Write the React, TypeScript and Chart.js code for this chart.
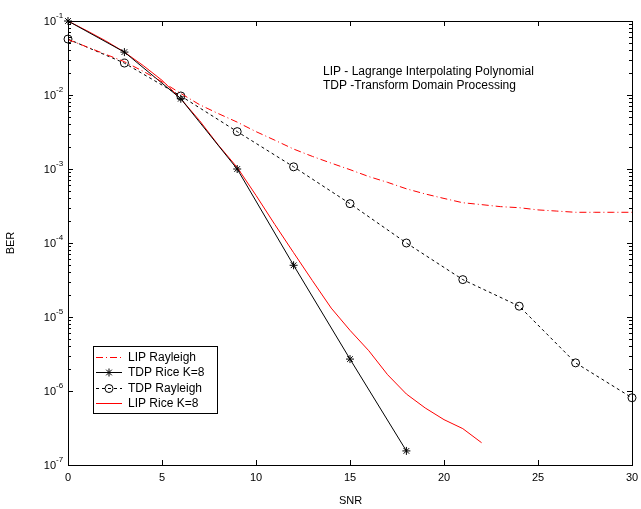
import React, { useEffect, useRef } from 'react';
import { Chart, registerables } from 'chart.js';

Chart.register(...registerables);

// ---- data ----
const snrLipRayleigh = [0, 1, 2, 3, 4, 5, 6, 7, 8, 9, 10, 11, 12, 13, 14, 15, 16, 17, 18, 19, 20, 21, 22, 23, 24, 25, 26, 27, 28, 29, 30];
const berLipRayleigh = [0.0562, 0.0447, 0.0355, 0.0282, 0.0209, 0.0151, 0.0105, 0.0074, 0.0056, 0.0043, 0.0032, 0.00245, 0.00186, 0.00148, 0.0012, 0.00098, 0.00079, 0.00066, 0.00054, 0.00046, 0.0004, 0.00035, 0.00033, 0.00031, 0.0003, 0.00028, 0.00027, 0.00026, 0.00026, 0.00026, 0.00026];

const snrTdpRice = [0, 3, 6, 9, 12, 15, 18];
const berTdpRice = [0.1, 0.038, 0.0089, 0.001, 5.0e-5, 2.7e-6, 1.55e-7];

const snrTdpRayleigh = [0, 3, 6, 9, 12, 15, 18, 21, 24, 27, 30];
const berTdpRayleigh = [0.057, 0.027, 0.0097, 0.0032, 0.00107, 3.4e-4, 1.0e-4, 3.2e-5, 1.4e-5, 2.4e-6, 8.1e-7];

const snrLipRice = [0, 1, 2, 3, 4, 5, 6, 7, 8, 9, 10, 11, 12, 13, 14, 15, 16, 17, 18, 19, 20, 21, 22];
const berLipRice = [0.1, 0.074, 0.054, 0.038, 0.025, 0.0158, 0.0089, 0.0045, 0.0021, 0.00105, 4.4e-4, 1.78e-4, 7.4e-5, 3.1e-5, 1.32e-5, 6.6e-6, 3.5e-6, 1.66e-6, 9.1e-7, 5.9e-7, 4.1e-7, 3.1e-7, 2.0e-7];

const xTicks = [0, 5, 10, 15, 20, 25, 30];
const yExponents = [-1, -2, -3, -4, -5, -6, -7];
const seriesLabels = ['LIP Rayleigh', 'TDP Rice K=8', 'TDP Rayleigh', 'LIP Rice K=8'];
const annotationLines = ['LIP - Lagrange Interpolating Polynomial', 'TDP -Transform Domain Processing'];
const xTitle = 'SNR';
const yTitle = 'BER';

const FONT = '"Liberation Sans", Arial, sans-serif';

function drawMarker(ctx: CanvasRenderingContext2D, style: string, x: number, y: number, r: number) {
  ctx.beginPath();
  if (style === 'circle') {
    ctx.arc(x, y, r, 0, Math.PI * 2);
  } else if (style === 'star') {
    for (let k = 0; k < 4; k++) {
      const a = (k * Math.PI) / 4;
      ctx.moveTo(x - Math.cos(a) * r, y - Math.sin(a) * r);
      ctx.lineTo(x + Math.cos(a) * r, y + Math.sin(a) * r);
    }
  }
  ctx.stroke();
}

const matlabPlugin = {
  id: 'matlabAxes',
  afterDraw(chart: any) {
    const { ctx, chartArea } = chart;
    const xs = chart.scales.x;
    const ys = chart.scales.y;
    const L = chartArea.left, R = chartArea.right, T = chartArea.top, B = chartArea.bottom;
    ctx.save();
    ctx.strokeStyle = '#000';
    ctx.lineWidth = 1;
    ctx.setLineDash([]);
    // box
    ctx.strokeRect(Math.round(L) + 0.5, Math.round(T) + 0.5, Math.round(R - L), Math.round(B - T));
    // x ticks
    ctx.beginPath();
    for (const v of xTicks) {
      const px = Math.round(xs.getPixelForValue(v)) + 0.5;
      ctx.moveTo(px, B);
      ctx.lineTo(px, B - 5);
      ctx.moveTo(px, T);
      ctx.lineTo(px, T + 5);
    }
    // y ticks
    for (const e of yExponents) {
      const dec = Math.pow(10, e);
      const py = Math.round(ys.getPixelForValue(dec)) + 0.5;
      ctx.moveTo(L, py);
      ctx.lineTo(L + 5, py);
      ctx.moveTo(R, py);
      ctx.lineTo(R - 5, py);
      if (e > -7) {
        for (let m = 2; m <= 9; m++) {
          const pm = Math.round(ys.getPixelForValue(m * dec)) + 0.5;
          ctx.moveTo(L, pm);
          ctx.lineTo(L + 3, pm);
          ctx.moveTo(R, pm);
          ctx.lineTo(R - 3, pm);
        }
      }
    }
    ctx.stroke();

    // y labels with superscripts
    ctx.fillStyle = '#000';
    for (const e of yExponents) {
      const py = ys.getPixelForValue(Math.pow(10, e));
      ctx.font = `11px ${FONT}`;
      ctx.textAlign = 'right';
      ctx.textBaseline = 'middle';
      ctx.fillText('10', L - 12, py + 1);
      ctx.font = `8px ${FONT}`;
      ctx.textAlign = 'left';
      ctx.fillText(String(e), L - 12, py - 5);
    }

    // axis titles
    ctx.font = `11px ${FONT}`;
    ctx.textAlign = 'center';
    ctx.textBaseline = 'middle';
    ctx.fillText(xTitle, (L + R) / 2 + 0.5, 501);
    ctx.save();
    ctx.translate(11, (T + B) / 2);
    ctx.rotate(-Math.PI / 2);
    ctx.fillText(yTitle, 0, 0);
    ctx.restore();

    // annotation
    ctx.font = `12px ${FONT}`;
    ctx.textAlign = 'left';
    ctx.textBaseline = 'middle';
    annotationLines.forEach((t, i) => ctx.fillText(t, 323, 72 + i * 14));

    // legend
    const lx = 93, ly = 346, lw = 124, lh = 67;
    ctx.fillStyle = '#fff';
    ctx.fillRect(lx, ly, lw, lh);
    ctx.strokeStyle = '#000';
    ctx.strokeRect(lx + 0.5, ly + 0.5, lw, lh);
    chart.data.datasets.forEach((ds: any, i: number) => {
      const y = Math.round(357 + i * 15.3) + 0.5;
      ctx.strokeStyle = ds.borderColor;
      ctx.lineWidth = 1;
      ctx.setLineDash(ds.borderDash || []);
      ctx.beginPath();
      ctx.moveTo(96, y);
      ctx.lineTo(122, y);
      ctx.stroke();
      ctx.setLineDash([]);
      if (ds.pointRadius > 0) {
        drawMarker(ctx, ds.pointStyle, 109, y, ds.pointRadius);
      }
      ctx.fillStyle = '#000';
      ctx.font = `12px ${FONT}`;
      ctx.textAlign = 'left';
      ctx.textBaseline = 'middle';
      ctx.fillText(ds.label, 128, y);
    });
    ctx.restore();
  },
};

function toPoints(xsArr: number[], ysArr: number[]) {
  return xsArr.map((x, i) => ({ x, y: ysArr[i] }));
}

export default function App() {
  const ref = useRef<HTMLCanvasElement | null>(null);
  useEffect(() => {
    if (!ref.current) return;
    const chart = new Chart(ref.current, {
      type: 'line',
      data: {
        datasets: [
          {
            label: seriesLabels[0],
            data: toPoints(snrLipRayleigh, berLipRayleigh),
            borderColor: '#ff0000',
            borderWidth: 1,
            borderDash: [7, 3, 1, 3],
            pointRadius: 0,
            tension: 0,
            clip: false,
          },
          {
            label: seriesLabels[1],
            data: toPoints(snrTdpRice, berTdpRice),
            borderColor: '#000000',
            borderWidth: 1,
            pointStyle: 'star',
            pointRadius: 4,
            pointBorderColor: '#000000',
            pointBackgroundColor: 'transparent',
            pointBorderWidth: 1,
            tension: 0,
            clip: false,
          },
          {
            label: seriesLabels[2],
            data: toPoints(snrTdpRayleigh, berTdpRayleigh),
            borderColor: '#000000',
            borderWidth: 1,
            borderDash: [3, 3],
            pointStyle: 'circle',
            pointRadius: 4,
            pointBorderColor: '#000000',
            pointBackgroundColor: 'transparent',
            pointBorderWidth: 1,
            tension: 0,
            clip: false,
          },
          {
            label: seriesLabels[3],
            data: toPoints(snrLipRice, berLipRice),
            borderColor: '#ff0000',
            borderWidth: 1,
            pointRadius: 0,
            tension: 0,
            clip: false,
          },
        ] as any,
      },
      options: {
        animation: false,
        responsive: false,
        devicePixelRatio: 1,
        layout: { padding: { left: 0, right: 9, top: 21, bottom: 0 } },
        plugins: { legend: { display: false }, tooltip: { enabled: false } },
        scales: {
          x: {
            type: 'linear',
            min: 0,
            max: 30,
            afterBuildTicks: (s: any) => { s.ticks = xTicks.map((v) => ({ value: v })); },
            afterFit: (s: any) => { s.height = 44; s.paddingLeft = 0; s.paddingRight = 0; },
            ticks: { color: '#000', font: { size: 11, family: FONT }, padding: 6, maxRotation: 0 },
            grid: { display: false, drawTicks: false },
            border: { display: false },
          },
          y: {
            type: 'logarithmic',
            min: 1e-7,
            max: 1e-1,
            afterFit: (s: any) => { s.width = 68; s.paddingTop = 0; s.paddingBottom = 0; },
            ticks: { display: false },
            grid: { display: false, drawTicks: false },
            border: { display: false },
          },
        },
      } as any,
      plugins: [matlabPlugin],
    });
    return () => chart.destroy();
  }, []);
  return (
    <div style={{ position: 'fixed', left: 0, top: 0, width: 641, height: 509, background: '#fff' }}>
      <canvas ref={ref} width={641} height={509} />
    </div>
  );
}
